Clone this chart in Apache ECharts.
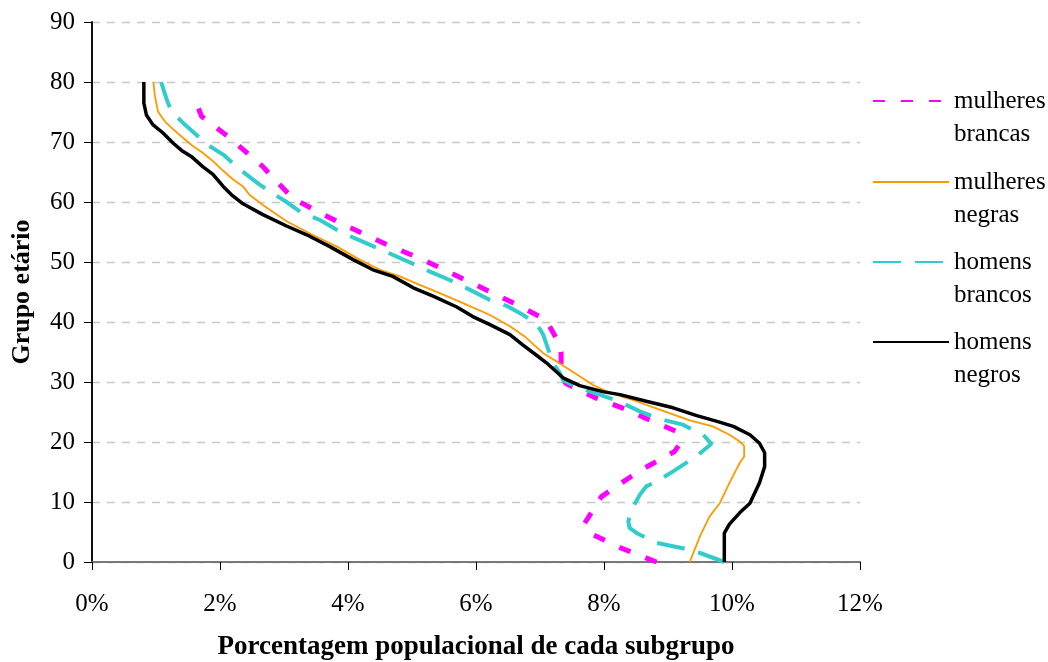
<!DOCTYPE html>
<html>
<head>
<meta charset="utf-8">
<script src="https://cdn.jsdelivr.net/npm/echarts@6/dist/echarts.min.js"></script>
<style>
  html, body { margin: 0; padding: 0; background: #fff; }
  #chart { width: 1048px; height: 662px; }
</style>
</head>
<body>
<div id="chart"></div>
<script>
// Data: [percent of subgroup, age]
const seriesNames = ['mulheres brancas', 'mulheres negras', 'homens brancos', 'homens negros'];
const xTicks = [0, 2, 4, 6, 8, 10, 12];
const yTicks = [0, 10, 20, 30, 40, 50, 60, 70, 80, 90];

const mulheresBrancas = [
  [8.82,0],[8.27,2.3],[7.78,4.8],[7.70,6.5],[7.96,10.9],[8.43,14.3],[8.64,15.7],[9.10,18.4],
  [9.18,19.6],[9.16,20.7],[9.12,21.8],[8.64,24.0],[8.43,25.1],[7.88,27.3],[7.40,29.8],
  [7.33,31.5],[7.33,35.0],[7.28,36.8],[7.09,40.4],[6.56,43.3],[6.17,45.3],[5.64,48.0],
  [5.17,50.4],[4.65,52.7],[4.10,55.4],[3.56,58.2],[3.14,60.6],[2.78,64.6],[2.67,65.9],
  [2.28,69.5],[2.13,70.9],[1.71,74.3],[1.66,75.7],[1.63,77]
];
const mulheresNegras = [
  [9.34,0],[9.50,4.3],[9.65,7.6],[9.81,9.8],[9.96,13.2],[10.12,16.5],[10.19,17.6],[10.19,19.3],
  [10.12,20.1],[9.96,21.2],[9.70,22.6],[9.34,23.6],[8.87,25.4],[8.45,27.0],[8.09,28.2],
  [7.83,29.5],[7.57,31.3],[7.26,33.4],[7.05,34.8],[6.76,37.6],[6.53,39.3],[6.21,41.2],
  [5.85,42.9],[5.48,44.6],[5.12,46.2],[4.81,47.6],[4.50,48.7],[4.18,50.4],[3.82,52.6],
  [3.45,54.5],[3.04,56.8],[2.67,59.5],[2.46,61.2],[2.36,62.6],[2.20,63.8],[2.05,65.2],
  [1.89,66.8],[1.73,68.2],[1.58,69.3],[1.42,70.7],[1.27,72.1],[1.14,73.4],[1.03,75.1],
  [0.98,77.9],[0.96,80]
];
const homensBrancos = [
  [9.88,0],[9.50,1.5],[9.23,2.3],[8.82,3.2],[8.53,4.7],[8.40,5.7],[8.38,6.8],[8.43,8.7],
  [8.56,11.2],[8.66,12.6],[8.82,13.4],[9.08,15.1],[9.44,17.6],[9.68,19.7],[9.55,21.2],
  [9.23,22.9],[8.92,23.7],[8.56,25.1],[8.22,26.8],[7.93,27.9],[7.62,29.0],[7.36,30.3],
  [7.31,31.5],[7.20,33.2],[7.13,35.4],[7.05,37.9],[6.97,39.3],[6.89,40.1],[6.73,41.2],
  [6.50,42.6],[6.21,43.7],[5.90,45.4],[5.59,47.0],[5.28,48.4],[4.91,50.2],[4.55,51.9],
  [4.23,53.4],[3.92,54.8],[3.56,57.0],[3.25,58.4],[3.04,60.0],[2.83,61.4],[2.62,62.9],
  [2.41,64.6],[2.23,66.2],[2.05,67.9],[1.81,69.5],[1.63,71.2],[1.45,72.9],[1.24,75.1],
  [1.16,77.3],[1.08,80]
];
const homensNegros = [
  [9.88,0],[9.88,4.8],[9.96,6.3],[10.12,8.2],[10.28,9.8],[10.43,13.2],[10.51,15.9],[10.51,18.2],
  [10.43,19.8],[10.28,21.2],[10.02,22.6],[9.78,23.4],[9.45,24.4],[9.08,25.7],[8.66,26.8],
  [8.25,27.9],[7.98,28.4],[7.62,29.4],[7.36,30.7],[7.10,33.2],[6.94,34.5],[6.73,36.2],
  [6.53,37.9],[6.21,39.6],[5.95,40.9],[5.70,42.5],[5.33,44.3],[5.02,45.7],[4.70,47.6],
  [4.39,48.7],[4.08,50.4],[3.71,52.6],[3.40,54.3],[3.04,56.0],[2.67,57.9],[2.36,59.7],
  [2.18,61.2],[2.05,62.6],[1.89,64.6],[1.73,65.9],[1.55,67.6],[1.40,68.6],[1.27,69.8],
  [1.11,71.5],[0.95,72.9],[0.85,74.5],[0.81,76.5],[0.81,80]
];

const FONT = "'Liberation Serif', 'Times New Roman', serif";
const chart = echarts.init(document.getElementById('chart'), null, { renderer: 'canvas' });

const styles = [
  { color: '#FF00FF', width: 5, type: [12, 16] },
  { color: '#FF9900', width: 1.8, type: 'solid' },
  { color: '#33CCCC', width: 4, type: [28, 14] },
  { color: '#000000', width: 3.5, type: 'solid' }
];
const dataSets = [mulheresBrancas, mulheresNegras, homensBrancos, homensNegros];
const legendCenters = [101, 182, 262, 342];

const option = {
  animation: false,
  backgroundColor: '#ffffff',
  grid: { left: 92, right: 188, top: 22, bottom: 100, containLabel: false, outerBoundsMode: 'none' },
  xAxis: [{
    type: 'value', min: 0, max: 12, interval: 2,
    name: 'Porcentagem populacional de cada subgrupo',
    nameLocation: 'middle', nameGap: 72,
    nameTextStyle: { fontFamily: FONT, fontWeight: 'bold', fontSize: 27, color: '#000' },
    axisLine: { show: true, lineStyle: { color: '#404040', width: 2 } },
    axisTick: { show: true, inside: false, length: 8, lineStyle: { color: '#000', width: 1 } },
    axisLabel: { margin: 30, fontFamily: FONT, fontSize: 25, color: '#000',
      formatter: v => (xTicks.indexOf(v) >= 0 ? v + '%' : '') },
    splitLine: { show: false }
  }, {
    type: 'value', min: 0, max: 12, position: 'top',
    axisLine: { show: true, lineStyle: { color: '#8a8a8a', width: 1.5 } },
    axisTick: { show: false }, axisLabel: { show: false }, splitLine: { show: false }
  }],
  yAxis: [{
    type: 'value', min: 0, max: 90, interval: 10,
    name: 'Grupo etário', nameLocation: 'middle', nameGap: 57,
    nameTextStyle: { fontFamily: FONT, fontWeight: 'bold', fontSize: 26, color: '#000' },
    axisLine: { show: true, lineStyle: { color: '#000', width: 1.5 } },
    axisTick: { show: true, inside: false, length: 8, lineStyle: { color: '#000', width: 1 } },
    axisLabel: { margin: 17, fontFamily: FONT, fontSize: 25, color: '#000',
      formatter: v => (yTicks.indexOf(v) >= 0 ? String(v) : '') },
    splitLine: { show: true, lineStyle: { color: '#c8c8c8', width: 1.3, type: [8, 7] } }
  }, {
    type: 'value', min: 0, max: 90, position: 'right',
    axisLine: { show: true, lineStyle: { color: '#000', width: 1.5 } },
    axisTick: { show: false }, axisLabel: { show: false }, splitLine: { show: false }
  }],
  legend: seriesNames.map((n, i) => ({
    data: [n],
    left: 872,
    top: legendCenters[i] - 49.5,
    orient: 'vertical',
    padding: 0,
    itemWidth: 76,
    itemHeight: 14,
    selectedMode: false,
    itemStyle: { opacity: 0 },
    textStyle: { fontFamily: FONT, fontSize: 25, color: '#000', lineHeight: 33 },
    formatter: name => '\n' + name.replace(' ', '\n')
  })),
  series: seriesNames.map((n, i) => ({
    name: n,
    type: 'line',
    xAxisIndex: 0,
    yAxisIndex: 0,
    data: dataSets[i],
    symbol: 'none',
    showSymbol: false,
    smooth: false,
    lineStyle: { color: styles[i].color, width: styles[i].width, type: styles[i].type, cap: 'butt' },
    itemStyle: { color: styles[i].color },
    emphasis: { disabled: true }
  }))
};
chart.setOption(option);
</script>
</body>
</html>
